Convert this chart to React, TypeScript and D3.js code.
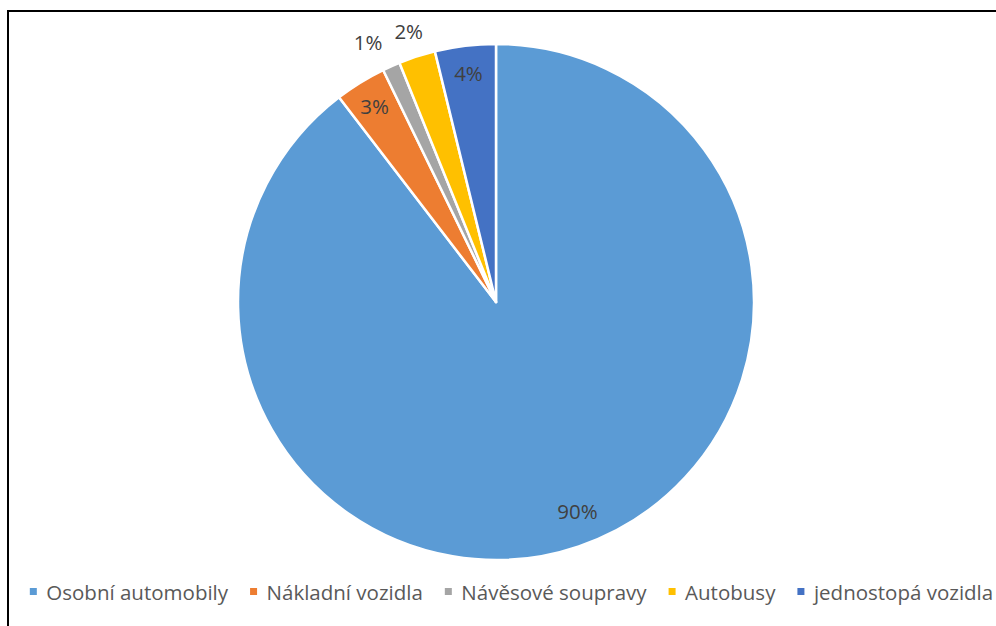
import React, { useEffect, useRef } from "react";
import * as d3 from "d3";

const categories = ["Osobní automobily", "Nákladní vozidla", "Návěsové soupravy", "Autobusy", "jednostopá vozidla"];
const values = [89.5, 3.2, 1.1, 2.3, 3.8];
const labels = ["90%", "3%", "1%", "2%", "4%"];
const colors = ["#5B9BD5", "#ED7D31", "#A5A5A5", "#FFC000", "#4472C4"];

const W = 996;
const H = 626;
const FONT = "'Open Sans', sans-serif";

export default function App() {
  const ref = useRef<SVGSVGElement>(null);

  useEffect(() => {
    const svg = d3.select(ref.current);
    svg.selectAll("*").remove();

    svg.append("rect").attr("width", W).attr("height", H).attr("fill", "#fff");
    svg.append("rect")
      .attr("x", 8).attr("y", 11).attr("width", W + 10).attr("height", H + 10)
      .attr("fill", "none").attr("stroke", "#000").attr("stroke-width", 2);

    const cx = 496, cy = 302, R = 258;
    const g = svg.append("g").attr("transform", `translate(${cx},${cy})`);
    const data = categories.map((c, i) => ({ c, v: values[i], l: labels[i], col: colors[i] }));
    const pie = d3.pie<any>().sort(null).value((d) => d.v);
    const arcs = pie(data);
    const arc = d3.arc<any>().innerRadius(0).outerRadius(R);

    g.selectAll("path").data(arcs).enter().append("path")
      .attr("d", arc as any)
      .attr("fill", (d: any) => d.data.col)
      .attr("stroke", "#fff").attr("stroke-width", 2.5).attr("stroke-linejoin", "round");

    const outside: { t: any; x: number; w: number }[] = [];
    arcs.forEach((a: any) => {
      let mid = (a.startAngle + a.endAngle) / 2;
      const isOut = a.data.v < 3;
      const big = a.data.v > 50;
      if (big) mid -= 0.045;
      const r = big ? 224 : !isOut ? 231 : 285;
      const x = Math.sin(mid) * r;
      const y = -Math.cos(mid) * r;
      const t = g.append("text")
        .attr("x", x).attr("y", y)
        .attr("text-anchor", "middle").attr("dominant-baseline", "central")
        .attr("font-family", FONT).attr("font-size", 20.5).attr("fill", "#404040")
        .text(a.data.l);
      if (isOut) outside.push({ t, x, w: (t.node() as SVGTextElement).getComputedTextLength() });
    });
    outside.sort((p, q) => q.x - p.x);
    for (let i = 1; i < outside.length; i++) {
      const prev = outside[i - 1];
      const cur = outside[i];
      const maxX = prev.x - prev.w / 2 - 12 - cur.w / 2;
      if (cur.x > maxX) {
        cur.x = maxX;
        cur.t.attr("x", cur.x);
      }
    }

    // legend
    const lg = svg.append("g");
    const items: { w: number; g: any }[] = [];
    data.forEach((d) => {
      const ig = lg.append("g");
      ig.append("rect").attr("x", 0).attr("y", -4).attr("width", 7).attr("height", 7).attr("fill", d.col);
      const t = ig.append("text").attr("x", 16.5).attr("y", 0)
        .attr("dominant-baseline", "central")
        .attr("font-family", FONT).attr("font-size", 20.5).attr("fill", "#595959")
        .text(d.c);
      const w = (t.node() as SVGTextElement).getComputedTextLength();
      items.push({ w: 16.5 + w, g: ig });
    });
    const gap = 22;
    const total = items.reduce((s, it) => s + it.w, 0) + gap * (items.length - 1);
    let x = 511.5 - total / 2;
    items.forEach((it) => {
      it.g.attr("transform", `translate(${x},592)`);
      x += it.w + gap;
    });
  }, []);

  return (
    <svg ref={ref} width={W} height={H} style={{ position: "absolute", left: 0, top: 0 }} />
  );
}
